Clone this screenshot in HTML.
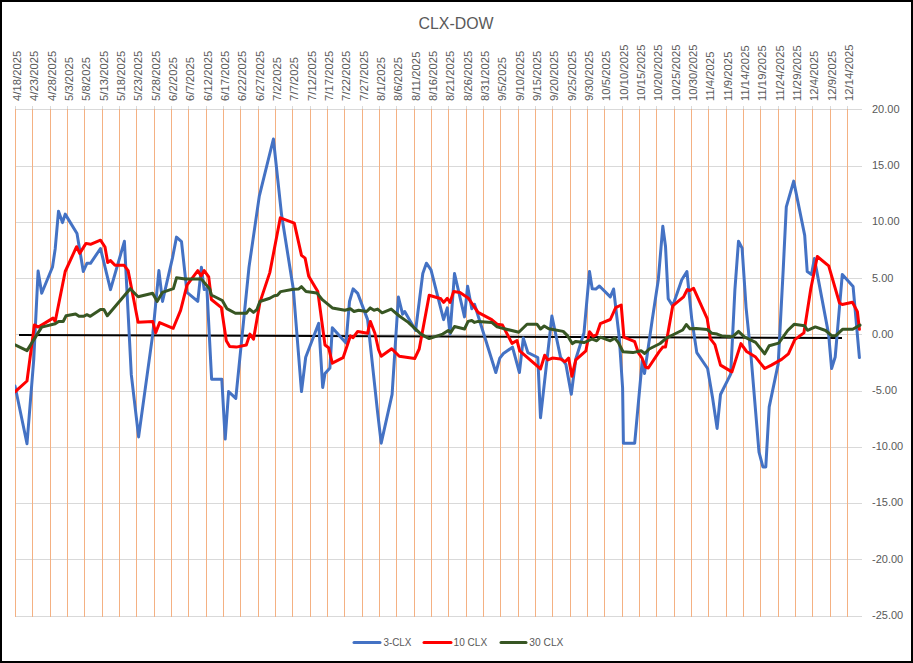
<!DOCTYPE html>
<html><head><meta charset="utf-8"><style>
html,body{margin:0;padding:0;background:#fff;}
svg{display:block;}
text{font-family:"Liberation Sans",sans-serif;fill:#595959;}
.yl{font-size:11px;}
.xl{font-size:11.3px;text-anchor:start;}
.title{font-size:16.5px;text-anchor:middle;}
.lg{font-size:11px;}
</style></head><body>
<svg width="913" height="663" viewBox="0 0 913 663">
<rect x="0" y="0" width="913" height="663" fill="#000"/>
<rect x="2" y="2" width="909" height="659" fill="#fff"/>
<line x1="15" y1="109.5" x2="862" y2="109.5" stroke="#d9d9d9" stroke-width="1"/>
<text x="872" y="112.9" class="yl">20.00</text>
<line x1="15" y1="166.5" x2="862" y2="166.5" stroke="#d9d9d9" stroke-width="1"/>
<text x="872" y="169.1" class="yl">15.00</text>
<line x1="15" y1="222.5" x2="862" y2="222.5" stroke="#d9d9d9" stroke-width="1"/>
<text x="872" y="225.3" class="yl">10.00</text>
<line x1="15" y1="278.5" x2="862" y2="278.5" stroke="#d9d9d9" stroke-width="1"/>
<text x="872" y="281.5" class="yl">5.00</text>
<line x1="15" y1="334.5" x2="862" y2="334.5" stroke="#d9d9d9" stroke-width="1"/>
<text x="872" y="337.7" class="yl">0.00</text>
<line x1="15" y1="391.5" x2="862" y2="391.5" stroke="#d9d9d9" stroke-width="1"/>
<text x="872" y="393.9" class="yl">-5.00</text>
<line x1="15" y1="447.5" x2="862" y2="447.5" stroke="#d9d9d9" stroke-width="1"/>
<text x="872" y="450.1" class="yl">-10.00</text>
<line x1="15" y1="503.5" x2="862" y2="503.5" stroke="#d9d9d9" stroke-width="1"/>
<text x="872" y="506.3" class="yl">-15.00</text>
<line x1="15" y1="559.5" x2="862" y2="559.5" stroke="#d9d9d9" stroke-width="1"/>
<text x="872" y="562.5" class="yl">-20.00</text>
<line x1="15" y1="616.5" x2="862" y2="616.5" stroke="#d9d9d9" stroke-width="1"/>
<text x="872" y="618.7" class="yl">-25.00</text>
<line x1="15.5" y1="109" x2="15.5" y2="617" stroke="#f4b183" stroke-width="1"/>
<line x1="15.5" y1="106" x2="15.5" y2="109" stroke="#d9d9d9" stroke-width="1"/>
<text transform="translate(21,101) rotate(-90)" class="xl">4/18/2025</text>
<line x1="32.5" y1="109" x2="32.5" y2="617" stroke="#f4b183" stroke-width="1"/>
<line x1="32.5" y1="106" x2="32.5" y2="109" stroke="#d9d9d9" stroke-width="1"/>
<text transform="translate(38,101) rotate(-90)" class="xl">4/23/2025</text>
<line x1="50.5" y1="109" x2="50.5" y2="617" stroke="#f4b183" stroke-width="1"/>
<line x1="50.5" y1="106" x2="50.5" y2="109" stroke="#d9d9d9" stroke-width="1"/>
<text transform="translate(56,101) rotate(-90)" class="xl">4/28/2025</text>
<line x1="67.5" y1="109" x2="67.5" y2="617" stroke="#f4b183" stroke-width="1"/>
<line x1="67.5" y1="106" x2="67.5" y2="109" stroke="#d9d9d9" stroke-width="1"/>
<text transform="translate(73,101) rotate(-90)" class="xl">5/3/2025</text>
<line x1="84.5" y1="109" x2="84.5" y2="617" stroke="#f4b183" stroke-width="1"/>
<line x1="84.5" y1="106" x2="84.5" y2="109" stroke="#d9d9d9" stroke-width="1"/>
<text transform="translate(90,101) rotate(-90)" class="xl">5/8/2025</text>
<line x1="102.5" y1="109" x2="102.5" y2="617" stroke="#f4b183" stroke-width="1"/>
<line x1="102.5" y1="106" x2="102.5" y2="109" stroke="#d9d9d9" stroke-width="1"/>
<text transform="translate(108,101) rotate(-90)" class="xl">5/13/2025</text>
<line x1="119.5" y1="109" x2="119.5" y2="617" stroke="#f4b183" stroke-width="1"/>
<line x1="119.5" y1="106" x2="119.5" y2="109" stroke="#d9d9d9" stroke-width="1"/>
<text transform="translate(125,101) rotate(-90)" class="xl">5/18/2025</text>
<line x1="136.5" y1="109" x2="136.5" y2="617" stroke="#f4b183" stroke-width="1"/>
<line x1="136.5" y1="106" x2="136.5" y2="109" stroke="#d9d9d9" stroke-width="1"/>
<text transform="translate(142,101) rotate(-90)" class="xl">5/23/2025</text>
<line x1="154.5" y1="109" x2="154.5" y2="617" stroke="#f4b183" stroke-width="1"/>
<line x1="154.5" y1="106" x2="154.5" y2="109" stroke="#d9d9d9" stroke-width="1"/>
<text transform="translate(160,101) rotate(-90)" class="xl">5/28/2025</text>
<line x1="171.5" y1="109" x2="171.5" y2="617" stroke="#f4b183" stroke-width="1"/>
<line x1="171.5" y1="106" x2="171.5" y2="109" stroke="#d9d9d9" stroke-width="1"/>
<text transform="translate(177,101) rotate(-90)" class="xl">6/2/2025</text>
<line x1="188.5" y1="109" x2="188.5" y2="617" stroke="#f4b183" stroke-width="1"/>
<line x1="188.5" y1="106" x2="188.5" y2="109" stroke="#d9d9d9" stroke-width="1"/>
<text transform="translate(194,101) rotate(-90)" class="xl">6/7/2025</text>
<line x1="206.5" y1="109" x2="206.5" y2="617" stroke="#f4b183" stroke-width="1"/>
<line x1="206.5" y1="106" x2="206.5" y2="109" stroke="#d9d9d9" stroke-width="1"/>
<text transform="translate(212,101) rotate(-90)" class="xl">6/12/2025</text>
<line x1="223.5" y1="109" x2="223.5" y2="617" stroke="#f4b183" stroke-width="1"/>
<line x1="223.5" y1="106" x2="223.5" y2="109" stroke="#d9d9d9" stroke-width="1"/>
<text transform="translate(229,101) rotate(-90)" class="xl">6/17/2025</text>
<line x1="240.5" y1="109" x2="240.5" y2="617" stroke="#f4b183" stroke-width="1"/>
<line x1="240.5" y1="106" x2="240.5" y2="109" stroke="#d9d9d9" stroke-width="1"/>
<text transform="translate(246,101) rotate(-90)" class="xl">6/22/2025</text>
<line x1="258.5" y1="109" x2="258.5" y2="617" stroke="#f4b183" stroke-width="1"/>
<line x1="258.5" y1="106" x2="258.5" y2="109" stroke="#d9d9d9" stroke-width="1"/>
<text transform="translate(264,101) rotate(-90)" class="xl">6/27/2025</text>
<line x1="275.5" y1="109" x2="275.5" y2="617" stroke="#f4b183" stroke-width="1"/>
<line x1="275.5" y1="106" x2="275.5" y2="109" stroke="#d9d9d9" stroke-width="1"/>
<text transform="translate(281,101) rotate(-90)" class="xl">7/2/2025</text>
<line x1="292.5" y1="109" x2="292.5" y2="617" stroke="#f4b183" stroke-width="1"/>
<line x1="292.5" y1="106" x2="292.5" y2="109" stroke="#d9d9d9" stroke-width="1"/>
<text transform="translate(298,101) rotate(-90)" class="xl">7/7/2025</text>
<line x1="310.5" y1="109" x2="310.5" y2="617" stroke="#f4b183" stroke-width="1"/>
<line x1="310.5" y1="106" x2="310.5" y2="109" stroke="#d9d9d9" stroke-width="1"/>
<text transform="translate(316,101) rotate(-90)" class="xl">7/12/2025</text>
<line x1="327.5" y1="109" x2="327.5" y2="617" stroke="#f4b183" stroke-width="1"/>
<line x1="327.5" y1="106" x2="327.5" y2="109" stroke="#d9d9d9" stroke-width="1"/>
<text transform="translate(333,101) rotate(-90)" class="xl">7/17/2025</text>
<line x1="344.5" y1="109" x2="344.5" y2="617" stroke="#f4b183" stroke-width="1"/>
<line x1="344.5" y1="106" x2="344.5" y2="109" stroke="#d9d9d9" stroke-width="1"/>
<text transform="translate(350,101) rotate(-90)" class="xl">7/22/2025</text>
<line x1="362.5" y1="109" x2="362.5" y2="617" stroke="#f4b183" stroke-width="1"/>
<line x1="362.5" y1="106" x2="362.5" y2="109" stroke="#d9d9d9" stroke-width="1"/>
<text transform="translate(368,101) rotate(-90)" class="xl">7/27/2025</text>
<line x1="379.5" y1="109" x2="379.5" y2="617" stroke="#f4b183" stroke-width="1"/>
<line x1="379.5" y1="106" x2="379.5" y2="109" stroke="#d9d9d9" stroke-width="1"/>
<text transform="translate(385,101) rotate(-90)" class="xl">8/1/2025</text>
<line x1="396.5" y1="109" x2="396.5" y2="617" stroke="#f4b183" stroke-width="1"/>
<line x1="396.5" y1="106" x2="396.5" y2="109" stroke="#d9d9d9" stroke-width="1"/>
<text transform="translate(402,101) rotate(-90)" class="xl">8/6/2025</text>
<line x1="414.5" y1="109" x2="414.5" y2="617" stroke="#f4b183" stroke-width="1"/>
<line x1="414.5" y1="106" x2="414.5" y2="109" stroke="#d9d9d9" stroke-width="1"/>
<text transform="translate(420,101) rotate(-90)" class="xl">8/11/2025</text>
<line x1="431.5" y1="109" x2="431.5" y2="617" stroke="#f4b183" stroke-width="1"/>
<line x1="431.5" y1="106" x2="431.5" y2="109" stroke="#d9d9d9" stroke-width="1"/>
<text transform="translate(437,101) rotate(-90)" class="xl">8/16/2025</text>
<line x1="448.5" y1="109" x2="448.5" y2="617" stroke="#f4b183" stroke-width="1"/>
<line x1="448.5" y1="106" x2="448.5" y2="109" stroke="#d9d9d9" stroke-width="1"/>
<text transform="translate(454,101) rotate(-90)" class="xl">8/21/2025</text>
<line x1="466.5" y1="109" x2="466.5" y2="617" stroke="#f4b183" stroke-width="1"/>
<line x1="466.5" y1="106" x2="466.5" y2="109" stroke="#d9d9d9" stroke-width="1"/>
<text transform="translate(472,101) rotate(-90)" class="xl">8/26/2025</text>
<line x1="483.5" y1="109" x2="483.5" y2="617" stroke="#f4b183" stroke-width="1"/>
<line x1="483.5" y1="106" x2="483.5" y2="109" stroke="#d9d9d9" stroke-width="1"/>
<text transform="translate(489,101) rotate(-90)" class="xl">8/31/2025</text>
<line x1="500.5" y1="109" x2="500.5" y2="617" stroke="#f4b183" stroke-width="1"/>
<line x1="500.5" y1="106" x2="500.5" y2="109" stroke="#d9d9d9" stroke-width="1"/>
<text transform="translate(506,101) rotate(-90)" class="xl">9/5/2025</text>
<line x1="518.5" y1="109" x2="518.5" y2="617" stroke="#f4b183" stroke-width="1"/>
<line x1="518.5" y1="106" x2="518.5" y2="109" stroke="#d9d9d9" stroke-width="1"/>
<text transform="translate(524,101) rotate(-90)" class="xl">9/10/2025</text>
<line x1="535.5" y1="109" x2="535.5" y2="617" stroke="#f4b183" stroke-width="1"/>
<line x1="535.5" y1="106" x2="535.5" y2="109" stroke="#d9d9d9" stroke-width="1"/>
<text transform="translate(541,101) rotate(-90)" class="xl">9/15/2025</text>
<line x1="552.5" y1="109" x2="552.5" y2="617" stroke="#f4b183" stroke-width="1"/>
<line x1="552.5" y1="106" x2="552.5" y2="109" stroke="#d9d9d9" stroke-width="1"/>
<text transform="translate(558,101) rotate(-90)" class="xl">9/20/2025</text>
<line x1="570.5" y1="109" x2="570.5" y2="617" stroke="#f4b183" stroke-width="1"/>
<line x1="570.5" y1="106" x2="570.5" y2="109" stroke="#d9d9d9" stroke-width="1"/>
<text transform="translate(576,101) rotate(-90)" class="xl">9/25/2025</text>
<line x1="587.5" y1="109" x2="587.5" y2="617" stroke="#f4b183" stroke-width="1"/>
<line x1="587.5" y1="106" x2="587.5" y2="109" stroke="#d9d9d9" stroke-width="1"/>
<text transform="translate(593,101) rotate(-90)" class="xl">9/30/2025</text>
<line x1="604.5" y1="109" x2="604.5" y2="617" stroke="#f4b183" stroke-width="1"/>
<line x1="604.5" y1="106" x2="604.5" y2="109" stroke="#d9d9d9" stroke-width="1"/>
<text transform="translate(610,101) rotate(-90)" class="xl">10/5/2025</text>
<line x1="622.5" y1="109" x2="622.5" y2="617" stroke="#f4b183" stroke-width="1"/>
<line x1="622.5" y1="106" x2="622.5" y2="109" stroke="#d9d9d9" stroke-width="1"/>
<text transform="translate(628,101) rotate(-90)" class="xl">10/10/2025</text>
<line x1="639.5" y1="109" x2="639.5" y2="617" stroke="#f4b183" stroke-width="1"/>
<line x1="639.5" y1="106" x2="639.5" y2="109" stroke="#d9d9d9" stroke-width="1"/>
<text transform="translate(645,101) rotate(-90)" class="xl">10/15/2025</text>
<line x1="656.5" y1="109" x2="656.5" y2="617" stroke="#f4b183" stroke-width="1"/>
<line x1="656.5" y1="106" x2="656.5" y2="109" stroke="#d9d9d9" stroke-width="1"/>
<text transform="translate(662,101) rotate(-90)" class="xl">10/20/2025</text>
<line x1="674.5" y1="109" x2="674.5" y2="617" stroke="#f4b183" stroke-width="1"/>
<line x1="674.5" y1="106" x2="674.5" y2="109" stroke="#d9d9d9" stroke-width="1"/>
<text transform="translate(680,101) rotate(-90)" class="xl">10/25/2025</text>
<line x1="691.5" y1="109" x2="691.5" y2="617" stroke="#f4b183" stroke-width="1"/>
<line x1="691.5" y1="106" x2="691.5" y2="109" stroke="#d9d9d9" stroke-width="1"/>
<text transform="translate(697,101) rotate(-90)" class="xl">10/30/2025</text>
<line x1="708.5" y1="109" x2="708.5" y2="617" stroke="#f4b183" stroke-width="1"/>
<line x1="708.5" y1="106" x2="708.5" y2="109" stroke="#d9d9d9" stroke-width="1"/>
<text transform="translate(714,101) rotate(-90)" class="xl">11/4/2025</text>
<line x1="726.5" y1="109" x2="726.5" y2="617" stroke="#f4b183" stroke-width="1"/>
<line x1="726.5" y1="106" x2="726.5" y2="109" stroke="#d9d9d9" stroke-width="1"/>
<text transform="translate(732,101) rotate(-90)" class="xl">11/9/2025</text>
<line x1="743.5" y1="109" x2="743.5" y2="617" stroke="#f4b183" stroke-width="1"/>
<line x1="743.5" y1="106" x2="743.5" y2="109" stroke="#d9d9d9" stroke-width="1"/>
<text transform="translate(749,101) rotate(-90)" class="xl">11/14/2025</text>
<line x1="760.5" y1="109" x2="760.5" y2="617" stroke="#f4b183" stroke-width="1"/>
<line x1="760.5" y1="106" x2="760.5" y2="109" stroke="#d9d9d9" stroke-width="1"/>
<text transform="translate(766,101) rotate(-90)" class="xl">11/19/2025</text>
<line x1="778.5" y1="109" x2="778.5" y2="617" stroke="#f4b183" stroke-width="1"/>
<line x1="778.5" y1="106" x2="778.5" y2="109" stroke="#d9d9d9" stroke-width="1"/>
<text transform="translate(784,101) rotate(-90)" class="xl">11/24/2025</text>
<line x1="795.5" y1="109" x2="795.5" y2="617" stroke="#f4b183" stroke-width="1"/>
<line x1="795.5" y1="106" x2="795.5" y2="109" stroke="#d9d9d9" stroke-width="1"/>
<text transform="translate(801,101) rotate(-90)" class="xl">11/29/2025</text>
<line x1="812.5" y1="109" x2="812.5" y2="617" stroke="#f4b183" stroke-width="1"/>
<line x1="812.5" y1="106" x2="812.5" y2="109" stroke="#d9d9d9" stroke-width="1"/>
<text transform="translate(818,101) rotate(-90)" class="xl">12/4/2025</text>
<line x1="830.5" y1="109" x2="830.5" y2="617" stroke="#f4b183" stroke-width="1"/>
<line x1="830.5" y1="106" x2="830.5" y2="109" stroke="#d9d9d9" stroke-width="1"/>
<text transform="translate(836,101) rotate(-90)" class="xl">12/9/2025</text>
<line x1="847.5" y1="109" x2="847.5" y2="617" stroke="#f4b183" stroke-width="1"/>
<line x1="847.5" y1="106" x2="847.5" y2="109" stroke="#d9d9d9" stroke-width="1"/>
<text transform="translate(853,101) rotate(-90)" class="xl">12/14/2025</text>
<line x1="19" y1="335" x2="842" y2="338" stroke="#000" stroke-width="2"/>
<defs><clipPath id="pc"><rect x="15" y="100" width="847" height="520"/></clipPath></defs><g clip-path="url(#pc)">
<polyline points="15,386 27,443.7 33.8,358.8 38.1,271.1 41.7,293.2 52.5,267 55.2,248.9 58.5,211.2 62.5,222.6 65.2,214.1 77,233.5 83.3,271.5 86.9,263.3 90.5,263.3 100.5,248.5 110.5,289.6 124.4,241.3 131.3,374.7 138.6,436.9 152.8,333.9 158.9,270.6 162.5,301.4 172.5,257.9 176.5,237.1 181.5,241.6 187,292.3 197.8,301.4 201.4,267.3 204.2,289.6 206.9,288.7 211.6,379.2 221.8,379.2 225.2,439.1 228.6,391.6 235.8,398.4 249,267.1 259.3,196.1 273.4,139 281.6,215.1 293.3,288.9 301.5,391.6 305.7,357.2 318.7,323.3 322.7,387.4 325,373.5 329.9,368.1 332.3,327.8 346,343 349.5,301.5 353.1,288.9 357.7,293.4 367.6,319.6 377.6,412.4 381.2,443.2 392.1,394.3 398.4,297 402.6,314.2 404.7,311.5 415.6,330.5 422.8,273.5 426.4,263.2 431,269.9 443.6,319.6 447.3,307.9 450,334.1 454.5,273.5 464.5,316.9 467.6,286.2 471.8,308.8 474.5,304.3 495.8,372.5 499.8,358.1 503.4,353.5 512.5,347.2 519.4,372.5 523.3,338.1 527.9,352.6 537.8,357.5 540.5,417.8 551.9,316 560.5,357.1 565.9,364.4 571.3,394.3 575.8,359 584,332.7 589.5,271.5 592.2,288.7 595.8,289.1 599.4,286 610.3,296.9 613.6,289 619.3,338 622.6,388 623.4,443.2 634.7,443.2 642.3,360 644.5,373.5 652.2,320 658.3,279.7 662.8,226.3 665.5,246.2 668.2,298.7 672.7,305.9 681.8,279.7 686.9,271.5 691.7,318.6 696.8,352.6 707.6,368.5 712.6,397.9 717.1,428.4 720.5,394.5 730.7,374.1 734.9,289.7 738.5,241.2 742.1,248.1 746.1,307.8 751.1,357.1 759,452.2 762.9,466.9 765.8,466.9 769.2,406.9 778.2,363.9 783.2,269.8 786.3,206.8 793.7,181.1 804.7,235.4 807.2,271.5 811.5,274.4 814.4,258.6 828.6,334.1 831.6,368.5 835.2,357 842.3,274.4 853.1,286.6 859.4,357.6" fill="none" stroke="#4472c4" stroke-width="3" stroke-linejoin="round" stroke-linecap="round"/>
<polyline points="15,391.8 27,381 34.4,324.9 38.3,327.1 53,318.1 55.2,321.5 65.2,271.5 76.6,246.7 79.7,253.4 86,243.4 90.5,244.3 100.5,240.2 105,247 107.7,262.4 110.5,260.6 115,265.2 124,265.2 128.1,270.6 138.1,322.2 152.8,321.5 155.7,332.8 159.6,322.6 173.2,328.3 180.6,310.4 187,285.1 197.8,270.6 201.1,276 204.2,270.6 208.7,276.9 211.4,299.5 221.4,307.7 226.3,340.7 229.7,346.4 236.3,347.1 246.3,345 249.9,334.1 253.5,339.2 259.9,302.4 269.8,272.6 280.3,217.8 294.3,223.2 301.5,255.4 305.1,258.1 308.7,276.2 317.8,291.6 325,345 328.6,347.7 332.3,363.2 343.1,357.7 350.4,335.9 353.1,337.7 357.7,331.4 367.6,333.2 370.3,321.4 374.9,333.2 378.5,349.5 381.2,356.3 391.7,348.7 399.3,356.3 414.7,358.5 419.2,349 429.2,295.2 440.9,298.8 443.6,302.4 447.3,298.3 450,302.4 453.6,291.6 460,292.5 468.1,297.9 478.1,312.4 491.7,319.6 497.1,324.2 502.5,325.1 512,343.4 517,340.5 519.7,350.8 540.5,368.9 544.7,355.3 547.8,359.9 552.3,358.1 560.5,359 565,361.7 568.6,358.1 571.9,376.2 575.8,359.9 585.9,350.8 589.5,331.8 593.1,336.3 596.7,334.5 600.3,323.7 610.3,319.5 615.7,307.7 621.2,305 623.9,337.2 634.7,341.7 638.3,352.6 642,358 645.6,367.1 648.3,368 659.2,351.7 662.8,347.1 665.5,347.1 672.7,305.9 683.6,296.9 687.2,289.6 689.9,290.5 693.6,288.3 707.2,318.7 710.3,338.6 714.9,344.7 720.5,365.1 731.9,371.9 740.9,343.6 746.6,351.5 755.6,357.1 764.7,368.5 771.4,365.1 781.6,359.4 788.4,353.8 794.8,339.6 803.9,332.9 810.8,288.7 817.3,256.5 828.7,265.8 839.5,303 842.3,304.5 852.4,302.3 857.4,311.6 859.4,329.3" fill="none" stroke="#ff0000" stroke-width="3" stroke-linejoin="round" stroke-linecap="round"/>
<polyline points="15,344.8 27,350.6 41.7,327.1 55.2,323.8 58.6,321.5 63.2,321.5 66.1,315.8 75.6,314 79,316.3 83.5,316.3 86.9,314.7 90.3,316.3 100.5,309.5 103.9,309.5 107.3,315.8 130.2,288.7 138.1,296.8 152.6,293.2 157.1,301.4 162.5,292.3 173.4,288.7 176.5,277.8 185.2,279.1 201.4,279.1 209.6,288.7 211.4,295 222.3,300.5 226.8,308.6 235.4,313.3 246.3,313.3 249.5,309.1 253.5,312.4 256.8,309.7 259.9,301.5 269.8,298.3 274.3,295.7 277.4,295.2 280.7,291.6 293.3,289.2 298.8,288.9 301.5,286.7 306,291.6 316.9,292.9 322.3,299.7 332.3,307.9 344.9,310.2 350.4,308.8 354,311.5 358.6,310.2 366.7,311.5 370.3,307.9 374,310.2 377.6,309.1 382.1,312.8 391.2,309.1 399.3,316 408.3,322.4 421,334.1 429.2,338.6 442.7,334.1 448.2,330.5 450.9,332.3 454.5,326.5 464.5,329 468.1,321.4 471.8,320.5 474.5,322.4 478.1,321.4 491.7,322.4 497.1,326.9 504.3,328.7 518.8,332.3 527,324.2 536.9,324.2 540.5,329 544.2,326 548.7,328.7 563.2,331.4 567.7,335.9 572.2,343.6 575.8,341.4 584,342.6 592.2,339 596.7,340.8 600.3,337.2 610.3,340.8 614.8,338.1 618.4,342.6 623,351.7 632.9,352.6 641.1,350.8 644.7,353.5 649.2,349 660.1,343.5 666.4,338.1 673.6,334.5 682.7,330 686.3,324.5 689.9,328.7 696.3,328.6 707.2,329.5 711.7,333.2 717.1,334.1 721.7,335.9 732.5,336.8 738.5,331.4 744.3,336.8 755.6,342.4 764.7,353.8 769.2,345.8 778.7,343.1 787.7,330.5 794.1,324.3 804.5,325.7 807.5,330.3 815.3,326.9 825.6,330.5 831.6,335.7 835.8,335.7 842.5,329.3 852.7,329.3 860,325.1" fill="none" stroke="#375623" stroke-width="3" stroke-linejoin="round" stroke-linecap="round"/>
</g>
<text x="456" y="28.5" class="title" textLength="75" lengthAdjust="spacingAndGlyphs">CLX-DOW</text>
<line x1="354" y1="642.5" x2="380" y2="642.5" stroke="#4472c4" stroke-width="3" stroke-linecap="round"/>
<text x="383.4" y="646" class="lg" textLength="28" lengthAdjust="spacingAndGlyphs">3-CLX</text>
<line x1="424" y1="642.5" x2="451" y2="642.5" stroke="#ff0000" stroke-width="3" stroke-linecap="round"/>
<text x="453.6" y="646" class="lg" textLength="33.6" lengthAdjust="spacingAndGlyphs">10 CLX</text>
<line x1="501" y1="642.5" x2="526" y2="642.5" stroke="#375623" stroke-width="3" stroke-linecap="round"/>
<text x="529.3" y="646" class="lg" textLength="34.1" lengthAdjust="spacingAndGlyphs">30 CLX</text>
</svg></body></html>
